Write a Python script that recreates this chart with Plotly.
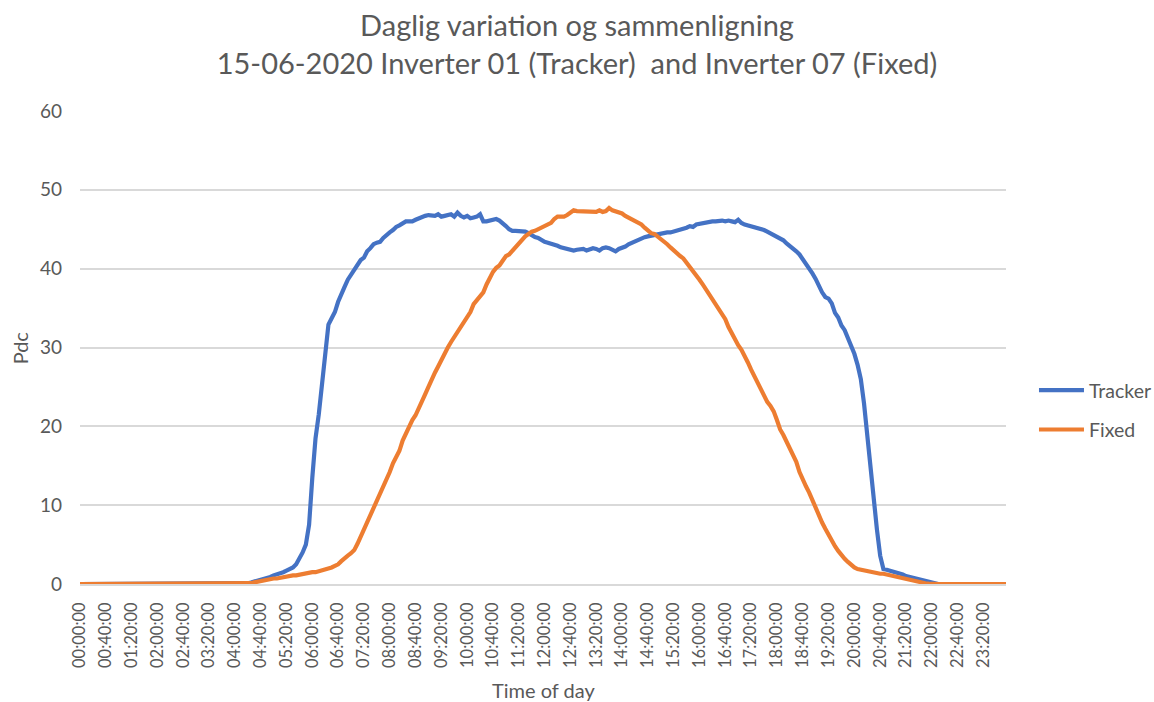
import plotly.graph_objects as go

# 5-minute categories for the whole day
times = [f"{h:02d}:{m:02d}:00" for h in range(24) for m in range(0, 60, 5)]

tick_labels = [
    "00:00:00", "00:40:00", "01:20:00", "02:00:00", "02:40:00", "03:20:00",
    "04:00:00", "04:40:00", "05:20:00", "06:00:00", "06:40:00", "07:20:00",
    "08:00:00", "08:40:00", "09:20:00", "10:00:00", "10:40:00", "11:20:00",
    "12:00:00", "12:40:00", "13:20:00", "14:00:00", "14:40:00", "15:20:00",
    "16:00:00", "16:40:00", "17:20:00", "18:00:00", "18:40:00", "19:20:00",
    "20:00:00", "20:40:00", "21:20:00", "22:00:00", "22:40:00", "23:20:00",
]

# Pdc, Inverter 01 (Tracker), one row per hour (12 x 5 min)
tracker = [
    0, 0, 0, 0, 0, 0, 0, 0, 0, 0, 0, 0,
    0, 0, 0, 0, 0, 0, 0, 0, 0, 0, 0, 0,
    0, 0, 0, 0, 0, 0, 0, 0, 0, 0, 0, 0,
    0, 0, 0, 0, 0, 0, 0, 0, 0, 0, 0, 0,
    0, 0, 0, 0, 0.1, 0.2, 0.3, 0.4, 0.5, 0.6, 0.8, 0.9,
    1.1, 1.2, 1.4, 1.5, 1.7, 1.9, 2.1, 2.5, 3.2, 4.0, 5.0, 7.5,
    13.5, 18.5, 21.5, 25.5, 30.0, 32.9, 33.7, 34.5, 35.8, 36.9, 37.7, 38.6,
    39.2, 39.8, 40.5, 41.1, 41.4, 42.2, 42.6, 43.1, 43.3, 43.4, 43.9, 44.3,
    44.6, 44.9, 45.3, 45.5, 45.8, 46.0, 46.0, 46.0, 46.2, 46.4, 46.5, 46.7,
    46.8, 46.8, 46.7, 46.9, 46.6, 46.7, 46.8, 46.9, 46.6, 47.1, 46.7, 46.5,
    46.7, 46.4, 46.5, 46.6, 46.9, 46.0, 46.0, 46.1, 46.2, 46.3, 46.1, 45.8,
    45.4, 45.0, 44.8, 44.8, 44.8, 44.8, 44.7, 44.5, 44.2, 44.0, 43.9, 43.6,
    43.4, 43.3, 43.2, 43.0, 42.9, 42.7, 42.6, 42.5, 42.4, 42.3, 42.4, 42.4,
    42.5, 42.3, 42.4, 42.6, 42.5, 42.3, 42.6, 42.7, 42.6, 42.4, 42.2, 42.5,
    42.6, 42.8, 43.1, 43.3, 43.5, 43.7, 43.8, 44.0, 44.1, 44.2, 44.3, 44.4,
    44.5, 44.5, 44.6, 44.6, 44.7, 44.8, 44.9, 45.0, 45.2, 45.4, 45.3, 45.6,
    45.7, 45.7, 45.8, 45.9, 46.0, 46.0, 46.1, 46.1, 46.0, 46.1, 46.0, 45.9,
    46.2, 45.8, 45.6, 45.5, 45.4, 45.3, 45.2, 45.1, 44.9, 44.7, 44.5, 44.3,
    44.1, 43.9, 43.6, 43.2, 42.9, 42.6, 42.2, 41.8, 41.2, 40.8, 40.2, 39.4,
    38.7, 37.7, 37.0, 36.4, 36.2, 35.6, 34.4, 33.8, 32.8, 32.2, 31.3, 30.2,
    29.2, 27.8, 26.0, 22.9, 18.6, 14.8, 10.6, 6.9, 3.6, 1.9, 1.8, 1.7,
    1.6, 1.5, 1.3, 1.2, 1.0, 0.9, 0.8, 0.7, 0.5, 0.4, 0.3, 0.2,
    0.1, 0.05, 0, 0, 0, 0, 0, 0, 0, 0, 0, 0,
    0, 0, 0, 0, 0, 0, 0, 0, 0, 0, 0, 0,
]

# Pdc, Inverter 07 (Fixed)
fixed = [
    0, 0, 0, 0, 0, 0, 0, 0, 0, 0, 0, 0,
    0, 0, 0, 0, 0, 0, 0, 0, 0, 0, 0, 0,
    0, 0, 0, 0, 0, 0, 0, 0, 0, 0, 0, 0,
    0, 0, 0, 0, 0, 0, 0, 0, 0, 0, 0, 0,
    0, 0, 0, 0, 0.05, 0.1, 0.2, 0.3, 0.4, 0.4, 0.5, 0.6,
    0.7, 0.7, 0.8, 0.9, 1.0, 1.0, 1.1, 1.1, 1.2, 1.3, 1.3, 1.4,
    1.5, 1.5, 1.6, 1.7, 1.8, 1.9, 2.1, 2.3, 2.5, 2.9, 3.3, 3.6,
    3.9, 4.3, 5.1, 6.0, 7.0, 7.8, 8.7, 9.4, 10.3, 11.2, 12.2, 13.3,
    14.2, 15.3, 16.2, 16.9, 18.2, 19.1, 20.0, 20.8, 21.4, 22.4, 23.3, 24.1,
    25.0, 26.0, 26.8, 27.6, 28.5, 29.3, 30.0, 30.7, 31.3, 32.0, 32.6, 33.3,
    33.9, 34.5, 35.5, 36.0, 36.4, 37.0, 38.0, 38.8, 39.6, 40.1, 40.4, 41.0,
    41.6, 41.8, 42.3, 42.8, 43.3, 43.7, 44.1, 44.4, 44.7, 44.8, 45.0, 45.2,
    45.4, 45.6, 45.8, 46.3, 46.6, 46.6, 46.6, 46.8, 47.1, 47.4, 47.3, 47.3,
    47.3, 47.2, 47.3, 47.3, 47.2, 47.4, 47.2, 47.3, 47.7, 47.4, 47.3, 47.1,
    47.0, 46.7, 46.5, 46.2, 46.0, 45.8, 45.6, 45.2, 44.8, 44.5, 44.4, 44.1,
    43.7, 43.4, 43.1, 42.7, 42.3, 42.0, 41.6, 41.3, 40.8, 40.3, 39.8, 39.3,
    38.6, 38.0, 37.4, 36.8, 36.2, 35.6, 35.0, 34.3, 33.6, 32.6, 31.8, 30.9,
    30.3, 29.7, 29.0, 28.1, 27.2, 26.4, 25.6, 24.7, 24.0, 23.1, 22.6, 21.9,
    20.8, 19.6, 18.9, 18.0, 17.3, 16.5, 15.5, 14.2, 13.2, 12.4, 11.6, 10.6,
    9.6, 8.7, 7.8, 7.0, 6.2, 5.5, 4.8, 4.2, 3.6, 3.2, 2.8, 2.4,
    2.1, 1.9, 1.8, 1.75, 1.7, 1.6, 1.5, 1.4, 1.3, 1.3, 1.2, 1.1,
    1.1, 1.0, 0.9, 0.8, 0.7, 0.5, 0.4, 0.3, 0.2, 0.15, 0.1, 0.05,
    0, 0, 0, 0, 0, 0, 0, 0, 0, 0, 0, 0,
    0, 0, 0, 0, 0, 0, 0, 0, 0, 0, 0, 0,
]

y_ticks = [0, 10, 20, 30, 40, 50, 60]

FONT = "Lato, 'Open Sans', sans-serif"
GREY = "#595959"
GRID = "#D9D9D9"

fig = go.Figure()
fig.add_trace(go.Scatter(x=times, y=tracker, mode="lines", name="Tracker",
                         legendgroup="a",
                         line=dict(color="#4472C4", width=4.2)))
fig.add_trace(go.Scatter(x=times, y=fixed, mode="lines", name="Fixed",
                         legendgroup="b",
                         line=dict(color="#ED7D31", width=4.2)))

fig.update_layout(
    width=1154, height=702,
    paper_bgcolor="white", plot_bgcolor="white",
    margin=dict(l=80, r=148, t=111, b=118, autoexpand=False),
    font=dict(family=FONT, color=GREY, size=18),
    title=dict(
        text="Daglig variation og sammenligning<br>15-06-2020 Inverter 01 (Tracker)  and Inverter 07 (Fixed)",
        x=0.5, xanchor="center", xref="container",
        y=0.9487, yanchor="top", yref="container",
        font=dict(family=FONT, size=29, color=GREY),
    ),
    legend=dict(
        xref="container", yref="container",
        x=0.896, xanchor="left", y=0.416, yanchor="middle",
        font=dict(family=FONT, size=19.5, color=GREY),
        traceorder="grouped", tracegroupgap=11,
        itemwidth=45, bgcolor="rgba(0,0,0,0)",
    ),
    xaxis=dict(
        type="category", range=[0, 287],
        tickmode="array", tickvals=tick_labels, ticktext=tick_labels,
        tickangle=-90, showgrid=False, ticks="",
        showline=True, linecolor=GRID, linewidth=1.5,
        tickfont=dict(family=FONT, size=16.5, color=GREY),
        ticklabelstandoff=10, automargin=False,
    ),
    yaxis=dict(
        range=[0, 60], tickvals=y_ticks, showgrid=True,
        gridcolor=GRID, gridwidth=1.5, zeroline=False, showline=False,
        ticks="", tickfont=dict(family=FONT, size=19, color=GREY),
        ticklabelstandoff=17, automargin=False,
    ),
    annotations=[
        dict(text="Time of day", xref="paper", yref="paper", x=0.5, y=-0.224,
             xanchor="center", yanchor="middle", showarrow=False,
             font=dict(family=FONT, size=20, color=GREY)),
        dict(text="Pdc", xref="paper", yref="paper", x=-0.065, y=0.5,
             xanchor="center", yanchor="middle", showarrow=False, textangle=-90,
             font=dict(family=FONT, size=20, color=GREY)),
    ],
)

fig.write_html(
    "out.html",
    config={"displayModeBar": False},
    post_script="document.body.style.margin='0';document.body.style.overflow='hidden';",
)
